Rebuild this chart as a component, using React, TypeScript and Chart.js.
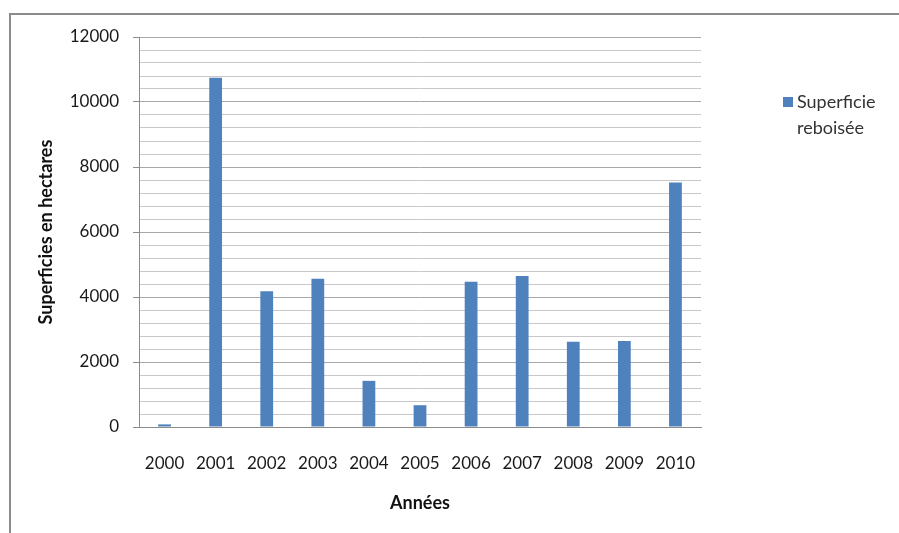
import React, { useEffect, useRef } from "react";
import { Chart, registerables } from "chart.js";

Chart.register(...registerables);

const years = ["2000", "2001", "2002", "2003", "2004", "2005", "2006", "2007", "2008", "2009", "2010"];
const reforestedArea = [80, 10750, 4180, 4560, 1420, 670, 4470, 4650, 2620, 2650, 7520];
const seriesLabel = ["Superficie", "reboisée"];
const yTitle = "Superficies en hectares";
const xTitle = "Années";

const FONT = "Lato, 'Open Sans', sans-serif";
const BAR_COLOR = "#4f81bd";

// Frame, axis titles and legend drawn around the plot area
const decorations = {
  id: "decorations",
  afterDraw(chart: Chart) {
    const ctx = chart.ctx;
    const area = chart.chartArea;
    ctx.save();
    // outer frame (left and top edges)
    ctx.strokeStyle = "#8c8c8c";
    ctx.lineWidth = 2;
    ctx.beginPath();
    ctx.moveTo(10, chart.height);
    ctx.lineTo(10, 14);
    ctx.lineTo(chart.width, 14);
    ctx.stroke();

    // y axis title
    ctx.fillStyle = "#111";
    ctx.font = `bold 18px ${FONT}`;
    ctx.textAlign = "center";
    ctx.textBaseline = "middle";
    ctx.save();
    ctx.translate(46, (area.top + area.bottom) / 2);
    ctx.rotate(-Math.PI / 2);
    ctx.fillText(yTitle, 0, 0);
    ctx.restore();

    // x axis title
    ctx.fillText(xTitle, (area.left + area.right) / 2, 503);

    // legend
    ctx.fillStyle = BAR_COLOR;
    ctx.fillRect(783, 97, 10, 10);
    ctx.fillStyle = "#333";
    ctx.font = `18px ${FONT}`;
    ctx.textAlign = "left";
    ctx.fillText(seriesLabel[0], 797, 102);
    ctx.fillText(seriesLabel[1], 797, 128);
    ctx.restore();
  },
};

export default function App() {
  const canvasRef = useRef<HTMLCanvasElement | null>(null);

  useEffect(() => {
    if (!canvasRef.current) return;
    const chart = new Chart(canvasRef.current, {
      type: "bar",
      data: {
        labels: years,
        datasets: [
          {
            label: seriesLabel.join(" "),
            data: reforestedArea,
            backgroundColor: BAR_COLOR,
            barPercentage: 0.25,
            categoryPercentage: 1,
          },
        ],
      },
      options: {
        animation: false,
        responsive: false,
        maintainAspectRatio: false,
        layout: { padding: { left: 0, top: 37, right: 198, bottom: 0 } },
        plugins: {
          legend: { display: false },
          tooltip: { enabled: false },
        },
        scales: {
          x: {
            grid: { display: false, drawTicks: false },
            border: { color: "#8c8c8c", width: 1 },
            ticks: {
              color: "#1a1a1a",
              font: { family: FONT, size: 17 },
              padding: 26,
              maxRotation: 0,
            },
            afterFit(scale: any) {
              scale.height = 106;
            },
          },
          y: {
            min: 0,
            max: 12000,
            grid: {
              color: (c: any) => (c.tick && c.tick.value % 2000 === 0 ? "#a8a8a8" : "#c8c8c8"),
              tickColor: (c: any) => (c.tick && c.tick.value % 2000 === 0 ? "#8c8c8c" : "rgba(0,0,0,0)"),
              tickLength: 6,
            },
            border: { color: "#8c8c8c", width: 1 },
            ticks: {
              stepSize: 400,
              autoSkip: false,
              color: "#1a1a1a",
              font: { family: FONT, size: 17 },
              padding: 14,
              callback: (v: any) => (Number(v) % 2000 === 0 ? String(v) : ""),
            },
            afterFit(scale: any) {
              scale.width = 139;
            },
          },
        },
      },
      plugins: [decorations],
    });
    return () => chart.destroy();
  }, []);

  return (
    <div style={{ position: "fixed", left: 0, top: 0, width: 899, height: 533, background: "#fff" }}>
      <canvas ref={canvasRef} width={899} height={533} style={{ display: "block" }} />
    </div>
  );
}
